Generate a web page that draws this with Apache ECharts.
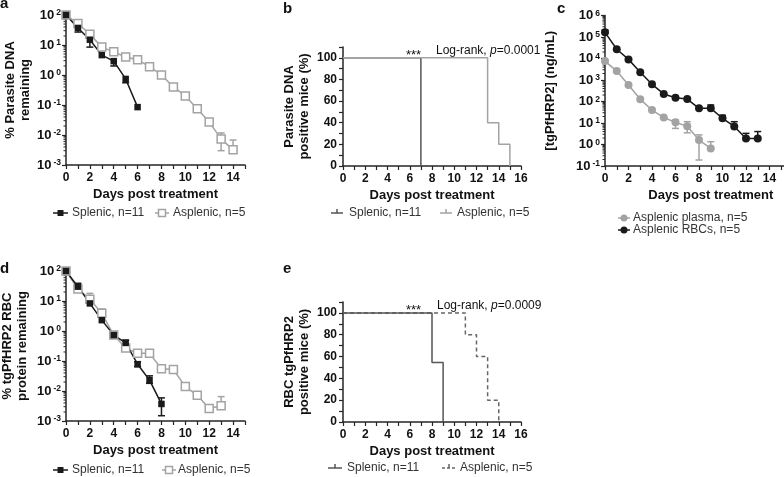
<!DOCTYPE html>
<html><head><meta charset="utf-8">
<script src="https://cdn.jsdelivr.net/npm/echarts@6/dist/echarts.min.js"></script>
<style>html,body{margin:0;padding:0;background:#fff}#c{width:784px;height:477px}</style>
</head><body><div id="c"></div>
<script>
const FONT = '"Liberation Sans", Arial, Helvetica, sans-serif';

// ---- Panel a: % parasite DNA remaining (index = day) ----
const aSplenic  = [100, 37, 15, 4.6, 2.9, 0.74, 0.085];
const aAsplenic = [100, 52, 23, 8.5, 5.9, 4.0, 3.2, 1.9, 1.0, 0.40, 0.20, 0.075, 0.027, 0.0074, 0.0032];
const aSplenicErr  = [[1, 27, 37], [2, 8.5, 15], [4, 2.0, 2.9], [5, 0.55, 0.74]];   // [day, low, high]
const aAsplenicErr = [[13, 0.0030, 0.0117], [14, 0.0032, 0.0068]];

// ---- Panel b: parasite DNA positive mice (%) step points [day, %] ----
const bSplenic  = [[0, 100], [7, 0]];
const bAsplenic = [[0, 100], [13, 40], [14, 20], [15, 0]];

// ---- Panel c: [tgPfHRP2] (ng/mL) (index = day) ----
const cPlasma = [7600, 2600, 590, 126, 40, 18, 10.7, 7.0, 1.6, 0.66];
const cRBC    = [165000, 27000, 9100, 2300, 630, 225, 150, 130, 48, 48, 16.6, 6.9, 1.9, 1.9];
const cPlasmaErr = [[6, 5.6, 13.8], [7, 3.5, 11.5], [8, 0.19, 2.8], [9, 0.66, 1.35]];
const cRBCErr    = [[0, 165000, 210000], [9, 48, 69], [10, 16.6, 23], [11, 6.9, 11.5], [12, 1.9, 3.3], [13, 1.9, 4.0]];

// ---- Panel d: % tgPfHRP2 RBC protein remaining (index = day) ----
const dSplenic  = [100, 30, 8.3, 2.3, 0.73, 0.40, 0.078, 0.023, 0.0037];
const dAsplenic = [100, 25, 11.5, 3.9, 0.73, 0.27, 0.18, 0.18, 0.055, 0.052, 0.014, 0.0072, 0.0026, 0.0032];
const dSplenicErr  = [[1, 30, 39], [5, 0.40, 0.50], [6, 0.065, 0.095], [7, 0.018, 0.032], [8, 0.0015, 0.0059]];
const dAsplenicErr = [[2, 11.5, 18], [3, 3.9, 5.4], [7, 0.18, 0.23], [12, 0.0026, 0.0033], [13, 0.0032, 0.0065]];

// ---- Panel e: RBC tgPfHRP2 positive mice (%) step points [day, %] ----
const eSplenic  = [[0, 100], [8, 54.5], [9, 0]];
const eAsplenic = [[0, 100], [11, 80], [12, 60], [13, 20], [14, 0]];

// axis decoration
const logMantissas = [2, 3, 4, 5, 6, 7, 8, 9];
function minorLogTicks(lowExp, highExp) {
  const out = [];
  for (let e = lowExp; e < highExp; e++) for (const m of logMantissas) out.push([0, m * Math.pow(10, e)]);
  return out;
}

const BLACK = '#1a1a1a', GREY = '#a3a3a3', AXIS = '#262626';

const grids = [
  { left: 66,  top: 15,   width: 179,   height: 150 },   // a
  { left: 343, top: 47,   width: 178,   height: 119 },   // b
  { left: 605, top: 15.5, width: 211.5, height: 150.5 }, // c
  { left: 66,  top: 271,  width: 179,   height: 150 },   // d
  { left: 343, top: 302,  width: 178,   height: 120 }    // e
].map(g => Object.assign({ outerBoundsMode: 'none', containLabel: false }, g));

function xAxis(gi, max) {
  return {
    gridIndex: gi, type: 'value', min: 0, max: max, interval: 1,
    axisLine: { show: true, onZero: false, lineStyle: { color: AXIS, width: 1.5 } },
    axisTick: { show: true, length: 4, lineStyle: { color: AXIS, width: 1.2 } },
    axisLabel: { formatter: v => (v % 2 === 0 ? String(v) : ''), fontSize: 12, fontWeight: 'bold',
                 color: '#111', fontFamily: FONT, margin: 7 },
    splitLine: { show: false },
    name: 'Days post treatment', nameLocation: 'middle', nameGap: 23,
    nameTextStyle: { fontSize: 13, fontWeight: 'bold', color: '#111', fontFamily: FONT }
  };
}
function logY(gi, min, max, name, gap) {
  return {
    gridIndex: gi, type: 'log', logBase: 10, min: min, max: max,
    axisLine: { show: true, onZero: false, lineStyle: { color: AXIS, width: 1.5 } },
    axisTick: { show: true, length: 4, lineStyle: { color: AXIS, width: 1.2 } },
    axisLabel: {
      formatter: v => '{b|10}{s|' + Math.round(Math.log10(v)) + '}', margin: 5,
      rich: {
        b: { fontSize: 13, fontWeight: 'bold', color: '#111', fontFamily: FONT },
        s: { fontSize: 8.5, fontWeight: 'bold', color: '#111', fontFamily: FONT, verticalAlign: 'top', padding: [0, 0, 0, 2] }
      }
    },
    splitLine: { show: false },
    name: name, nameLocation: 'middle', nameRotate: 90, nameGap: gap,
    nameTextStyle: { fontSize: 13, fontWeight: 'bold', color: '#111', fontFamily: FONT, lineHeight: 15 }
  };
}
function pctY(gi, name, gap) {
  return {
    gridIndex: gi, type: 'value', min: 0, max: 110, interval: 10,
    axisLine: { show: true, onZero: false, lineStyle: { color: AXIS, width: 1.5 } },
    axisTick: { show: true, length: 4, lineStyle: { color: AXIS, width: 1.2 } },
    axisLabel: { formatter: v => (v % 20 === 0 && v <= 100 ? String(v) : ''), fontSize: 12, fontWeight: 'bold',
                 color: '#111', fontFamily: FONT, margin: 6 },
    splitLine: { show: false },
    name: name, nameLocation: 'middle', nameRotate: 90, nameGap: gap,
    nameTextStyle: { fontSize: 13, fontWeight: 'bold', color: '#111', fontFamily: FONT, lineHeight: 15 }
  };
}

function byDay(vals) { return vals.map((v, i) => [i, v]); }

function lineSeries(gi, name, vals, color, symbol, size, open) {
  return {
    type: 'line', name: name, xAxisIndex: gi, yAxisIndex: gi, data: byDay(vals),
    symbol: symbol, symbolSize: size, showSymbol: true, z: 3,
    lineStyle: { color: color, width: 1.5 },
    itemStyle: open ? { color: '#ffffff', borderColor: color, borderWidth: 1.5 } : { color: color, borderWidth: 0 },
    animation: false
  };
}
function stepSeries(gi, name, pts, color, dash, z) {
  return {
    type: 'line', name: name, xAxisIndex: gi, yAxisIndex: gi, data: pts, step: 'end',
    showSymbol: false, symbol: 'none', z: z,
    lineStyle: { color: color, width: 1.5, type: dash ? [4, 3] : 'solid' }, animation: false
  };
}
function errSeries(gi, errs, means, color) {
  return {
    type: 'custom', xAxisIndex: gi, yAxisIndex: gi, z: 2, silent: true, animation: false,
    data: errs.map(e => [e[0], e[1], e[2], means[e[0]]]),
    renderItem: (params, api) => {
      const x = api.value(0), lo = api.value(1), hi = api.value(2), m = api.value(3);
      const a = api.coord([x, lo]), b = api.coord([x, hi]);
      const w = 3.5, st = { stroke: color, lineWidth: 1.5 };
      const ch = [{ type: 'line', shape: { x1: a[0], y1: a[1], x2: b[0], y2: b[1] }, style: st }];
      if (lo < m * 0.999) ch.push({ type: 'line', shape: { x1: a[0] - w, y1: a[1], x2: a[0] + w, y2: a[1] }, style: st });
      if (hi > m * 1.001) ch.push({ type: 'line', shape: { x1: b[0] - w, y1: b[1], x2: b[0] + w, y2: b[1] }, style: st });
      return { type: 'group', children: ch };
    }
  };
}
function minorSeries(gi, ticks) {
  return {
    type: 'custom', xAxisIndex: gi, yAxisIndex: gi, z: 1, silent: true, animation: false, data: ticks,
    renderItem: (params, api) => {
      const p = api.coord([0, api.value(1)]);
      return { type: 'line', shape: { x1: p[0] - 2.5, y1: p[1], x2: p[0], y2: p[1] }, style: { stroke: AXIS, lineWidth: 1 } };
    }
  };
}

// ---- graphic texts / legends ----
const graphic = [];
function txt(x, y, text, st) {
  graphic.push({ type: 'text', x: x, y: y, silent: true,
    style: Object.assign({ text: text, fill: '#111', fontFamily: FONT, fontSize: 12, align: 'left', verticalAlign: 'middle' }, st || {}) });
}
function legendItem(x1, x2, y, color, marker, dash, tx, label) {
  const ls = { stroke: color, lineWidth: 1.5 };
  if (dash) ls.lineDash = [3, 2];
  graphic.push({ type: 'line', silent: true, shape: { x1: x1, y1: y, x2: x2, y2: y }, style: ls });
  const cx = (x1 + x2) / 2;
  if (marker === 'sqFill') graphic.push({ type: 'rect', silent: true, shape: { x: cx - 3, y: y - 3, width: 6, height: 6 }, style: { fill: color } });
  if (marker === 'sqOpen') graphic.push({ type: 'rect', silent: true, shape: { x: cx - 3.5, y: y - 3.5, width: 7, height: 7 }, style: { fill: '#fff', stroke: color, lineWidth: 1.5 } });
  if (marker === 'circle') graphic.push({ type: 'circle', silent: true, shape: { cx: cx, cy: y, r: 3.5 }, style: { fill: color } });
  if (marker === 'tick') graphic.push({ type: 'line', silent: true, shape: { x1: cx, y1: y - 4, x2: cx, y2: y }, style: { stroke: color, lineWidth: 1.5 } });
  txt(tx, y, label, { fill: '#333' });
}

// panel letters
txt(0, 3.5, 'a', { fontSize: 15, fontWeight: 'bold' });
txt(283, 8.5, 'b', { fontSize: 15, fontWeight: 'bold' });
txt(557, 8.5, 'c', { fontSize: 15, fontWeight: 'bold' });
txt(0, 268.5, 'd', { fontSize: 15, fontWeight: 'bold' });
txt(283, 268.5, 'e', { fontSize: 15, fontWeight: 'bold' });

// statistics annotations
const rankRich = { n: { fontSize: 12, fontFamily: FONT, fill: '#111' }, i: { fontSize: 12, fontFamily: FONT, fontStyle: 'italic', fill: '#111' } };
txt(406, 55.5, '***', { fontSize: 13 });
txt(436, 51, '{n|Log-rank, }{i|p}{n|=0.0001}', { rich: rankRich });
txt(406, 310.5, '***', { fontSize: 13 });
txt(437, 305.5, '{n|Log-rank, }{i|p}{n|=0.0009}', { rich: rankRich });

// legends
legendItem(53, 68, 213, BLACK, 'sqFill', false, 72, 'Splenic, n=11');
legendItem(155, 169, 213, GREY, 'sqOpen', false, 173, 'Asplenic, n=5');
legendItem(331, 343, 213, '#555', 'tick', false, 349, 'Splenic, n=11');
legendItem(440, 452, 213, GREY, 'tick', false, 457, 'Asplenic, n=5');
legendItem(618, 630, 218, GREY, 'circle', false, 633, 'Asplenic plasma, n=5');
legendItem(618, 630, 230, BLACK, 'circle', false, 633, 'Asplenic RBCs, n=5');
legendItem(53, 68, 470, BLACK, 'sqFill', false, 72, 'Splenic, n=11');
legendItem(162, 176, 470, GREY, 'sqOpen', false, 178, 'Asplenic, n=5');
legendItem(328, 342, 468, '#555', 'tick', false, 347, 'Splenic, n=11');
legendItem(442, 456, 468, '#666', 'tick', true, 460, 'Asplenic, n=5');

const option = {
  backgroundColor: '#ffffff',
  animation: false,
  grid: grids,
  xAxis: [xAxis(0, 15), xAxis(1, 16), xAxis(2, 18), xAxis(3, 15), xAxis(4, 16)],
  yAxis: [
    logY(0, 0.001, 100, '% Parasite DNA\nremaining', 33),
    pctY(1, 'Parasite DNA\npositive mice (%)', 31),
    logY(2, 0.1, 1000000, '[tgPfHRP2] (ng/mL)', 47),
    logY(3, 0.001, 100, '% tgPfHRP2 RBC\nprotein remaining', 36),
    pctY(4, 'RBC tgPfHRP2\npositive mice (%)', 31)
  ],
  series: [
    minorSeries(0, minorLogTicks(-3, 2)),
    minorSeries(2, minorLogTicks(-1, 6)),
    minorSeries(3, minorLogTicks(-3, 2)),
    // a
    errSeries(0, aAsplenicErr, aAsplenic, GREY),
    errSeries(0, aSplenicErr, aSplenic, BLACK),
    lineSeries(0, 'a Asplenic', aAsplenic, GREY, 'rect', 8, true),
    lineSeries(0, 'a Splenic', aSplenic, BLACK, 'rect', 6.5, false),
    // b
    stepSeries(1, 'b Splenic', bSplenic, '#555', false, 2),
    stepSeries(1, 'b Asplenic', bAsplenic, GREY, false, 3),
    // c
    errSeries(2, cPlasmaErr, cPlasma, GREY),
    errSeries(2, cRBCErr, cRBC, BLACK),
    lineSeries(2, 'c Plasma', cPlasma, GREY, 'circle', 8, false),
    lineSeries(2, 'c RBCs', cRBC, BLACK, 'circle', 8, false),
    // d
    errSeries(3, dAsplenicErr, dAsplenic, GREY),
    errSeries(3, dSplenicErr, dSplenic, BLACK),
    lineSeries(3, 'd Asplenic', dAsplenic, GREY, 'rect', 8, true),
    lineSeries(3, 'd Splenic', dSplenic, BLACK, 'rect', 6.5, false),
    // e
    stepSeries(4, 'e Asplenic', eAsplenic, '#666', true, 2),
    stepSeries(4, 'e Splenic', eSplenic, '#555', false, 3)
  ],
  graphic: graphic
};

const chart = echarts.init(document.getElementById('c'), null, { renderer: 'canvas' });
chart.setOption(option);
</script></body></html>
